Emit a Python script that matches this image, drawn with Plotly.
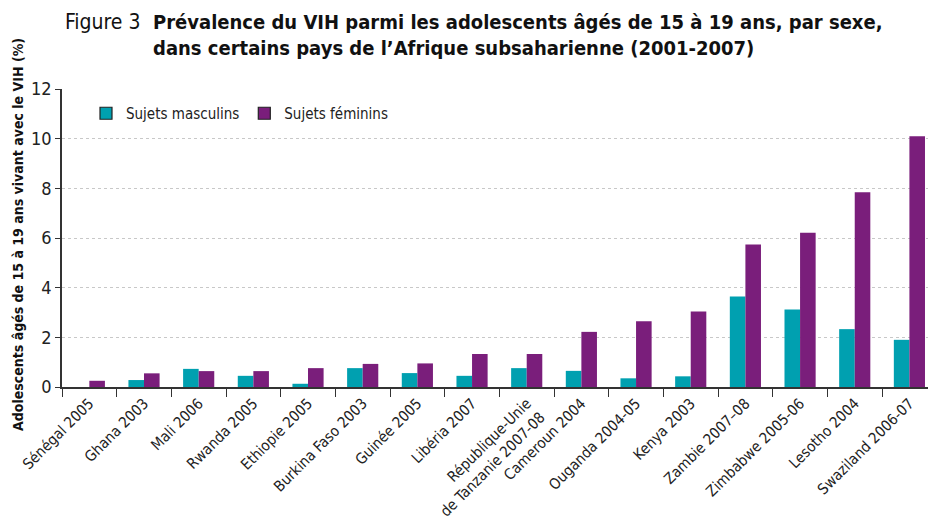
import plotly.graph_objects as go

categories = ["Sénégal 2005", "Ghana 2003", "Mali 2006", "Rwanda 2005", "Ethiopie 2005",
              "Burkina Faso 2003", "Guinée 2005", "Libéria 2007",
              "République-Unie<br>de Tanzanie 2007-08", "Cameroun 2004", "Ouganda 2004-05",
              "Kenya 2003", "Zambie 2007–08", "Zimbabwe 2005-06", "Lesotho 2004", "Swaziland 2006-07"]
male = [0.0, 0.28, 0.73, 0.45, 0.13, 0.76, 0.56, 0.45, 0.76, 0.65, 0.35, 0.43, 3.64, 3.12, 2.33, 1.90]
female = [0.25, 0.55, 0.64, 0.64, 0.76, 0.93, 0.95, 1.33, 1.33, 2.22, 2.65, 3.04, 5.74, 6.21, 7.84, 10.1]
y_ticks = [0, 2, 4, 6, 8, 10, 12]

FONT = "DejaVu Sans Condensed, Liberation Sans Narrow, sans-serif"
TEAL = "#00A0B0"
PURPLE = "#7A1E7B"

fig = go.Figure()
fig.add_trace(go.Bar(x=categories, y=male, name="Sujets masculins", offsetgroup="m",
                     showlegend=False, marker=dict(color=TEAL, line=dict(width=0))))
fig.add_trace(go.Bar(x=categories, y=female, name="Sujets féminins", offsetgroup="f",
                     showlegend=False, marker=dict(color=PURPLE, line=dict(width=0))))
# legend-only entries (black-outlined swatches as in the reference)
fig.add_trace(go.Bar(x=[categories[0]], y=[None], name="Sujets masculins", offsetgroup="m",
                     marker=dict(color=TEAL, line=dict(color="#222", width=1.2))))
fig.add_trace(go.Bar(x=[categories[0]], y=[None], name="Sujets féminins", offsetgroup="f",
                     marker=dict(color=PURPLE, line=dict(color="#222", width=1.2))))

W, H = 928, 519
L, R, T, B = 62, 0, 89, 132
pw = W - L - R
ph = H - T - B

def px(x):
    return (x - L) / pw

def py(y):
    return (H - B - y) / ph

fig.update_layout(
    width=W, height=H,
    margin=dict(l=L, r=R, t=T, b=B, autoexpand=False),
    paper_bgcolor="white", plot_bgcolor="white",
    barmode="group", bargap=0.43, bargroupgap=0,
    font=dict(family=FONT, size=16, color="#222"),
    showlegend=True,
    legend=dict(orientation="h", x=px(86), y=py(97), xanchor="left", yanchor="top",
                font=dict(size=15, family=FONT, color="#222"), bgcolor="rgba(0,0,0,0)",
                itemwidth=30, traceorder="normal"),
    xaxis=dict(range=[-0.5, 15.34], tickangle=-45, showgrid=False, automargin=False,
               showline=True, linecolor="#333", linewidth=1.5,
               ticks="outside", tickson="boundaries", ticklen=8, tickcolor="#333",
               tickfont=dict(size=15, family=FONT, color="#222")),
    yaxis=dict(range=[0, 12], tickvals=y_ticks, showgrid=True, automargin=False,
               gridcolor="#C8C8C8", griddash="dot", gridwidth=1.2,
               showline=True, linecolor="#333", linewidth=1.5,
               ticks="outside", ticklen=5, tickcolor="#333",
               tickfont=dict(size=18, family=FONT, color="#222"), zeroline=False),
)

fig.add_annotation(x=px(63), y=py(8), xref="paper", yref="paper", xanchor="left", yanchor="top",
                   text="Figure 3", showarrow=False,
                   font=dict(size=21, family=FONT, color="#111"))
fig.add_annotation(x=px(151), y=py(8), xref="paper", yref="paper", xanchor="left", yanchor="top",
                   align="left", showarrow=False,
                   text="<b>Prévalence du VIH parmi les adolescents âgés de 15 à 19 ans, par sexe,</b><br>"
                        "<b>dans certains pays de l’Afrique subsaharienne (2001-2007)</b>",
                   font=dict(size=20, family=FONT, color="#111"))
fig.add_annotation(x=px(18), y=py(235), xref="paper", yref="paper", xanchor="center", yanchor="middle",
                   textangle=-90, showarrow=False,
                   text="<b>Adolescents âgés de 15 à 19 ans vivant avec le VIH (%)</b>",
                   font=dict(size=14, family=FONT, color="#111"))

fig.write_html("out.html", config={"displayModeBar": False},
               post_script="document.body.style.margin='0';")
